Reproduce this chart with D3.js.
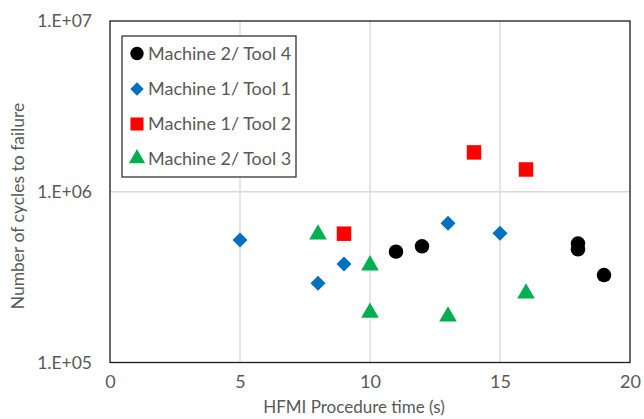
<!DOCTYPE html>
<html><head><meta charset="utf-8">
<script src="https://cdn.jsdelivr.net/npm/d3@7"></script>
<style>body{margin:0;background:#fff;} text{font-family:Lato,"Open Sans",sans-serif;fill:#595959;}</style>
</head><body><svg id="c" width="644" height="419"></svg>
<script>
const seriesNames = ["Machine 2/ Tool 4","Machine 1/ Tool 1","Machine 1/ Tool 2","Machine 2/ Tool 3"];
const m2t4X = [11,12,18,18,19];
const m2t4Y = [4.46e5,4.79e5,4.97e5,4.6e5,3.25e5];
const m1t1X = [5,8,9,13,15];
const m1t1Y = [5.21e5,2.91e5,3.77e5,6.53e5,5.71e5];
const m1t2X = [9,14,16];
const m1t2Y = [5.68e5,1.70e6,1.35e6];
const m2t3X = [8,10,10,13,16];
const m2t3Y = [5.62e5,3.71e5,1.96e5,1.86e5,2.54e5];
const xTicks = [0,5,10,15,20];
const yTicks = [1e5,1e6,1e7];
const yTickLabels = ["1.E+05","1.E+06","1.E+07"];

const colors = ["#000000","#0070C0","#FF0000","#00B050"];
const shapes = [d3.symbolCircle,d3.symbolSquare,d3.symbolSquare,d3.symbolTriangle];
const rots = [0,45,0,0];
const sizes = [165,112,210,135];
const data = [[m2t4X,m2t4Y],[m1t1X,m1t1Y],[m1t2X,m1t2Y],[m2t3X,m2t3Y]];

const svg = d3.select("#c");
const L=110,R=630,T=21,B=362.5;
const x = d3.scaleLinear().domain([0,20]).range([L,R]);
const y = d3.scaleLog().domain([1e5,1e7]).range([B,T]);

// gridlines
svg.append("g").selectAll("line").data(xTicks.slice(1,-1)).join("line")
 .attr("x1",d=>x(d)).attr("x2",d=>x(d)).attr("y1",T).attr("y2",B)
 .attr("stroke","#d9d9d9").attr("stroke-width",1.3);
svg.append("g").selectAll("line").data(yTicks.slice(1,-1)).join("line")
 .attr("y1",d=>y(d)).attr("y2",d=>y(d)).attr("x1",L).attr("x2",R)
 .attr("stroke","#d9d9d9").attr("stroke-width",1.3);

// axes labels
const xAxis = d3.axisBottom(x).tickValues(xTicks).tickSize(0).tickPadding(13);
const gx = svg.append("g").attr("transform",`translate(0,${B})`).call(xAxis);
gx.select(".domain").remove();
gx.selectAll("text").attr("font-size",18).attr("font-family","Lato").attr("fill","#595959");

const yAxis = d3.axisLeft(y).tickValues(yTicks).tickFormat((d,i)=>yTickLabels[i]).tickSize(0).tickPadding(18);
const gy = svg.append("g").attr("transform",`translate(${L},0)`).call(yAxis);
gy.select(".domain").remove();
gy.selectAll("text").attr("font-size",17.5).attr("font-family","Lato").attr("fill","#595959");

// plot border
svg.append("rect").attr("x",L).attr("y",T).attr("width",R-L).attr("height",B-T)
 .attr("fill","none").attr("stroke","#1a1a1a").attr("stroke-width",1.3);

// points
data.forEach((s,i)=>{
  svg.append("g").selectAll("path").data(s[0].map((v,j)=>[v,s[1][j]])).join("path")
   .attr("d",d3.symbol().type(shapes[i]).size(sizes[i]))
   .attr("transform",d=>`translate(${x(d[0])},${y(d[1])}) rotate(${rots[i]})`)
   .attr("fill",colors[i]);
});

// axis titles
svg.append("text").attr("x",(L+R)/2-16).attr("y",413).attr("text-anchor","middle")
 .attr("font-size",17).text("HFMI Procedure time (s)");
svg.append("text").attr("transform","translate(24,206) rotate(-90)").attr("text-anchor","middle")
 .attr("font-size",17.5).text("Number of cycles to failure");

// legend
const lg = svg.append("g");
lg.append("rect").attr("x",122).attr("y",36).attr("width",174).attr("height",141)
 .attr("fill","#fff").attr("stroke","#333").attr("stroke-width",1.3);
const rowsY=[53.5,89,124,158.5];
const lsizes=[140,90,170,115];
seriesNames.forEach((n,i)=>{
  lg.append("path").attr("d",d3.symbol().type(shapes[i]).size(lsizes[i])())
   .attr("transform",`translate(137,${rowsY[i]}) rotate(${rots[i]})`).attr("fill",colors[i]);
  lg.append("text").attr("x",148).attr("y",rowsY[i]).attr("dy","0.36em")
   .attr("font-size",18).text(n);
});
</script></body></html>
